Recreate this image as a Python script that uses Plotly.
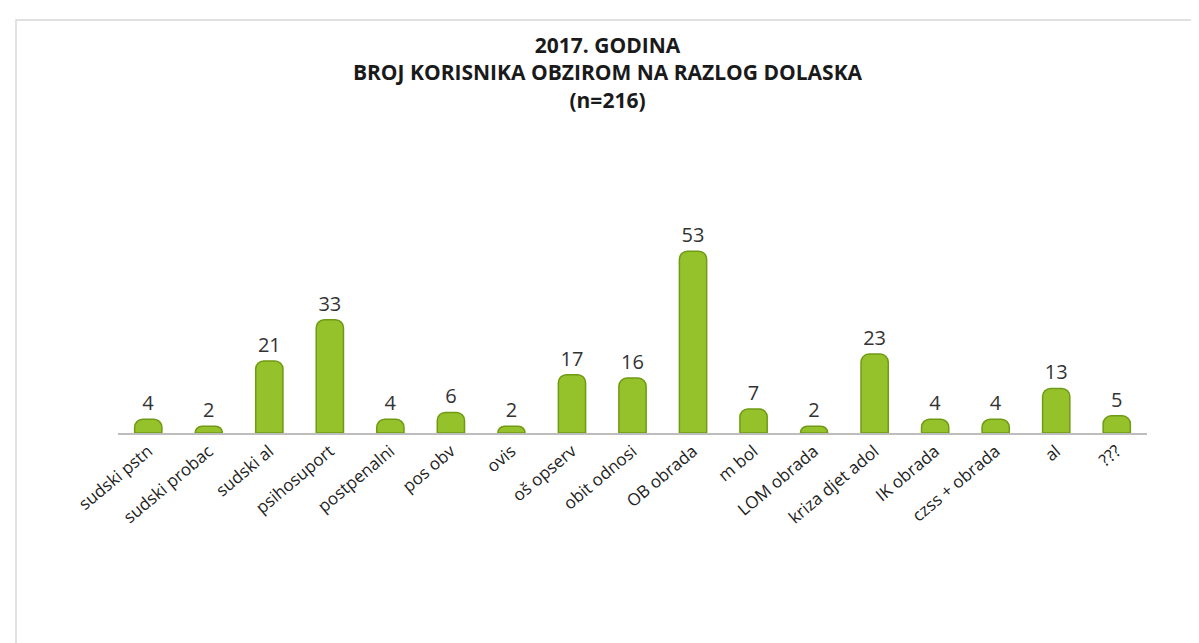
import plotly.graph_objects as go

categories = ["sudski pstn", "sudski probac", "sudski al", "psihosuport", "postpenalni",
              "pos obv", "ovis", "oš opserv", "obit odnosi", "OB obrada", "m bol",
              "LOM obrada", "kriza djet adol", "IK obrada", "czss + obrada", "al", "???"]
values = [4, 2, 21, 33, 4, 6, 2, 17, 16, 53, 7, 2, 23, 4, 4, 13, 5]

FONT = "Open Sans, Liberation Sans, sans-serif"

fig = go.Figure()
fig.add_trace(go.Bar(
    x=categories, y=values,
    marker=dict(color="#95c22a", line=dict(color="#6f9a14", width=1.5), cornerradius=8),
    text=values, textposition="outside",
    textfont=dict(size=20, color="#333333", family=FONT),
    cliponaxis=False,
))

L, R, T, B = 110, 60, 226, 218
W, H = 1199, 643
pw, ph = W - L - R, H - T - B

def px_x(p):
    return (p - L) / pw

def px_y(p):
    return (H - B - p) / ph

fig.update_layout(
    width=W, height=H,
    paper_bgcolor="white", plot_bgcolor="white",
    margin=dict(l=L, r=R, t=T, b=B),
    bargap=0.55,
    showlegend=False,
    title=dict(
        text="<b>2017. GODINA<br>BROJ KORISNIKA OBZIROM NA RAZLOG DOLASKA<br>(n=216)</b>",
        x=0.5, xanchor="center", y=0.93, yanchor="top",
        font=dict(size=21, color="#1a1a1a", family=FONT),
    ),
    xaxis=dict(
        tickangle=-40, showline=True, linecolor="#bdbdbd", linewidth=1.5,
        ticks="", tickfont=dict(size=17, color="#222222", family=FONT),
        showgrid=False,
    ),
    yaxis=dict(range=[0, 58], visible=False, showgrid=False),
    shapes=[dict(type="rect", xref="paper", yref="paper",
                 x0=px_x(8), x1=px_x(1192), y0=px_y(638), y1=px_y(12),
                 line=dict(color="#d8d8d8", width=1.5))],
)

fig.write_html("out.html")
